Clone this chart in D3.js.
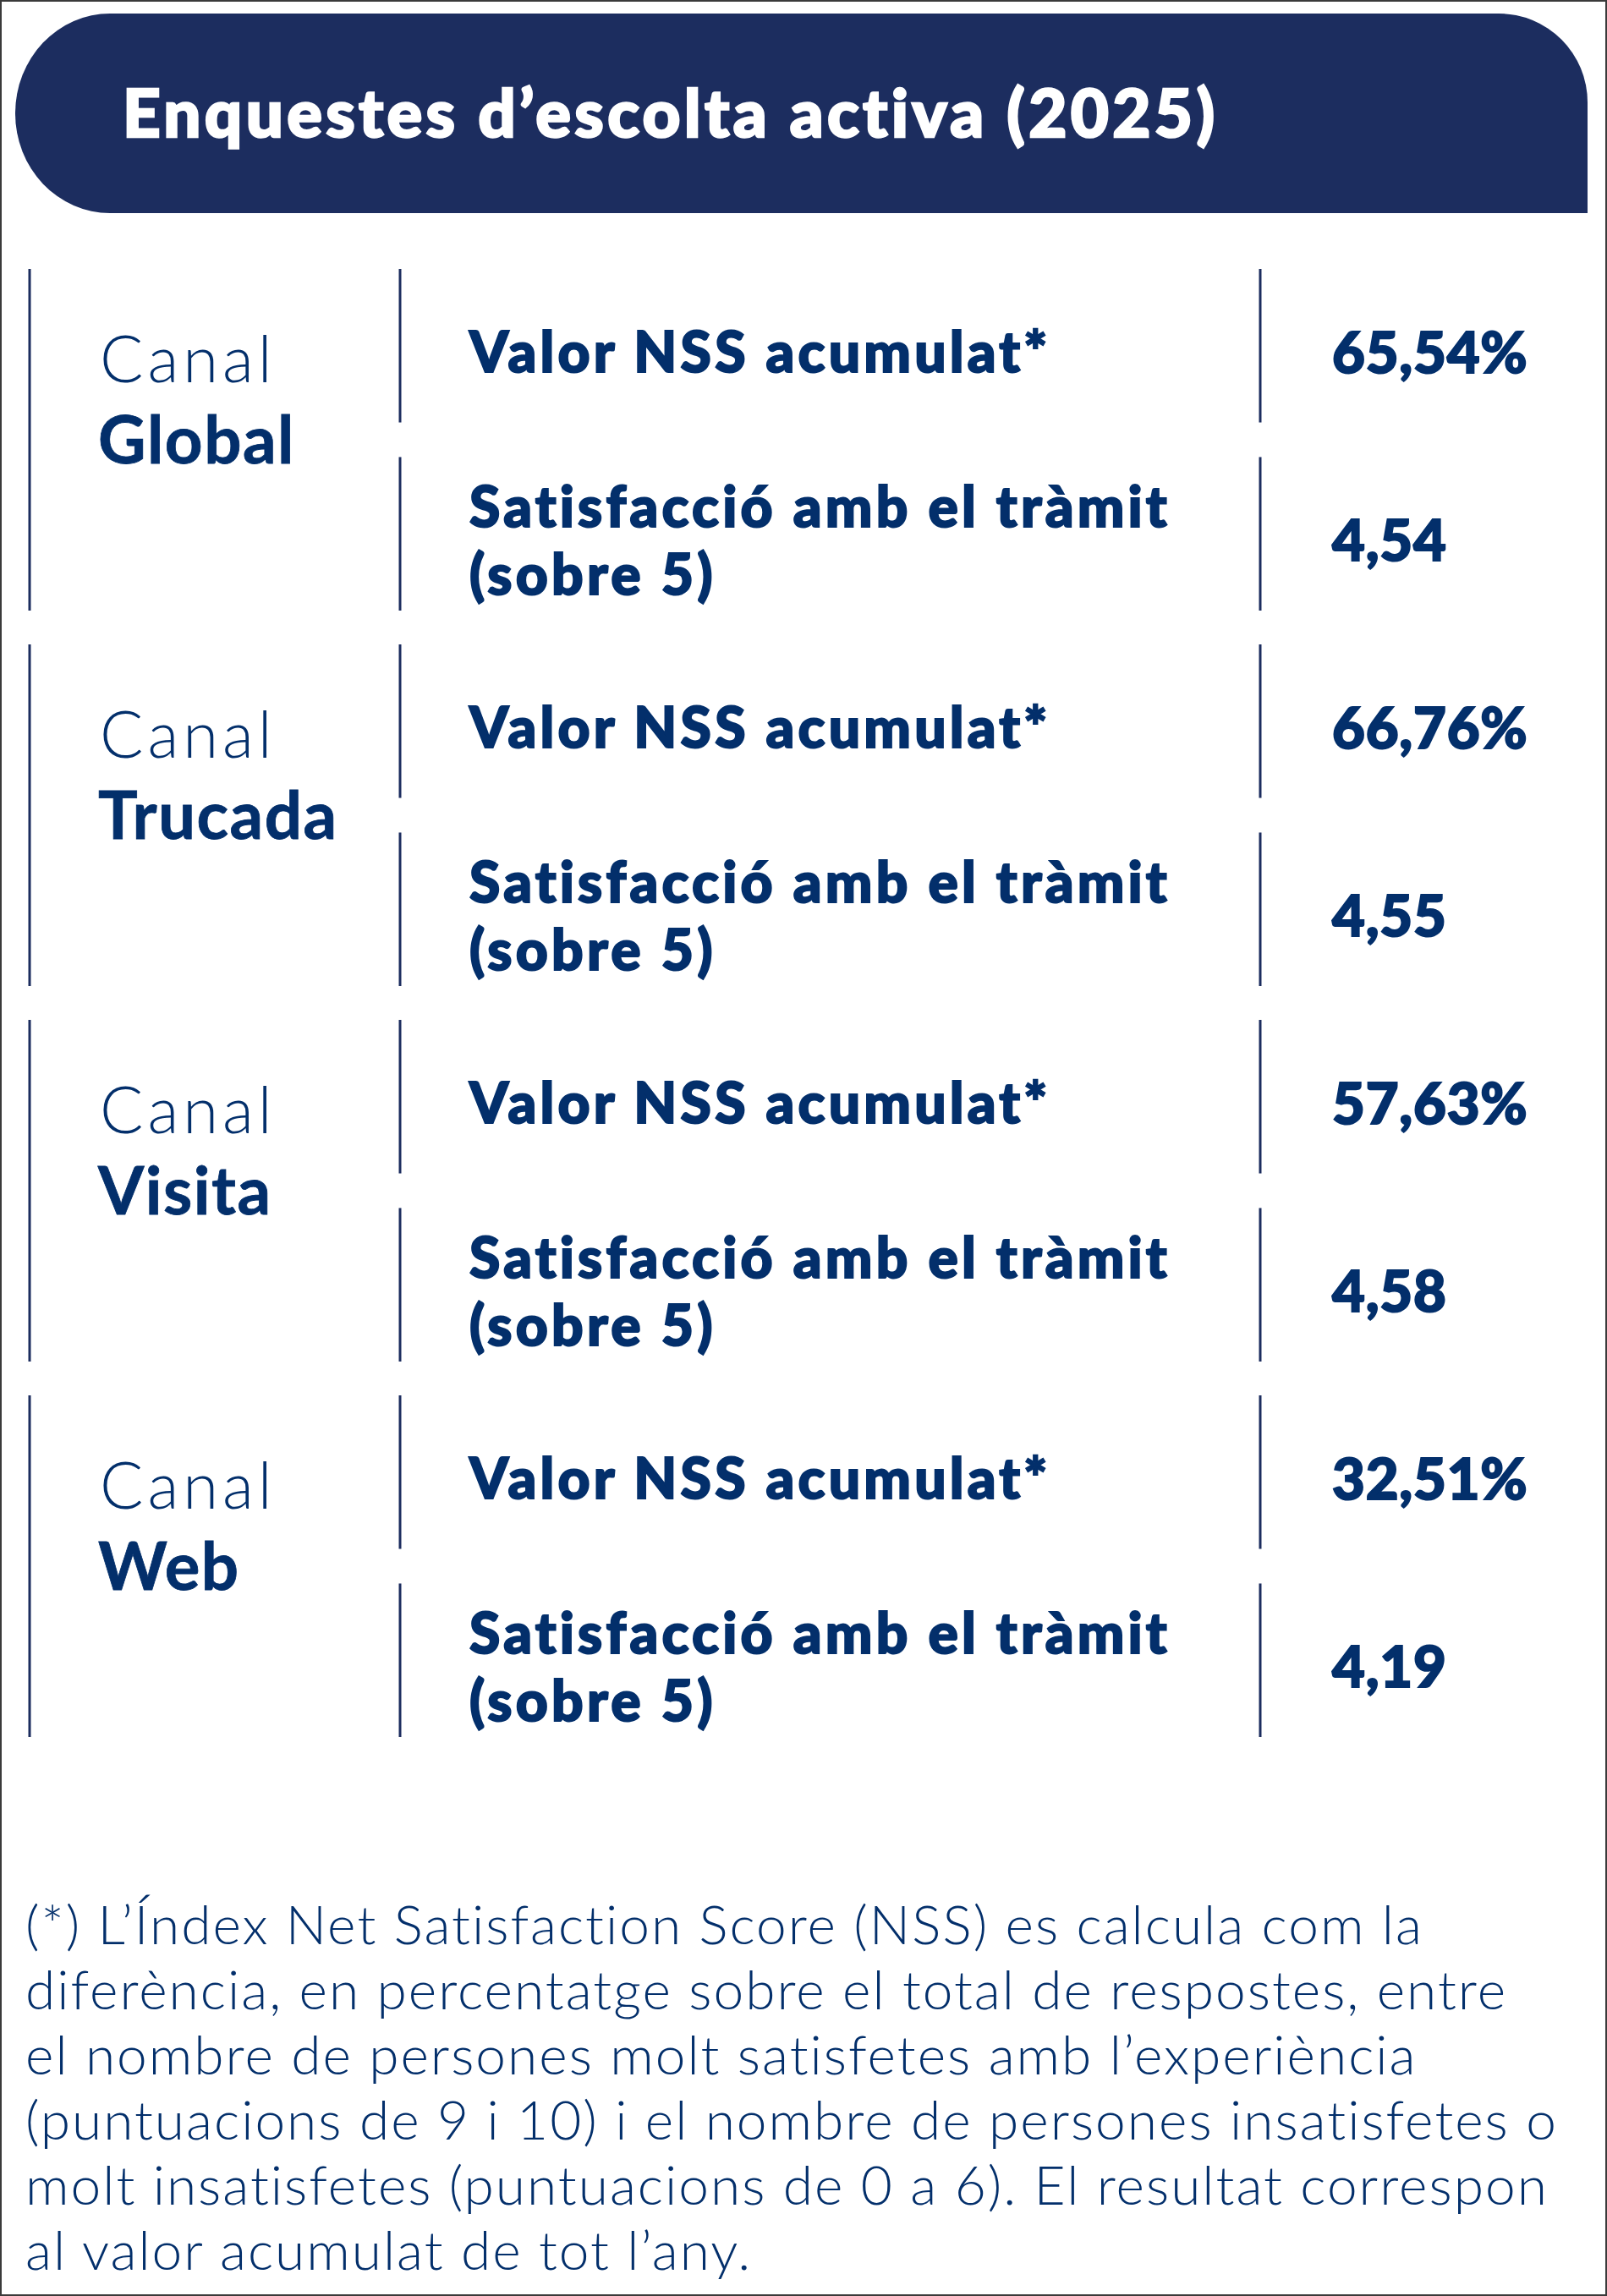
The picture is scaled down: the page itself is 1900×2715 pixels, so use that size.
<!DOCTYPE html>
<html>
<head>
<meta charset="utf-8">
<script src="https://cdn.jsdelivr.net/npm/d3@7"></script>
<style>
  body { margin: 0; background: #ffffff; }
  svg { display: block; }
</style>
</head>
<body>
<div id="chart"></div>
<script>
// Size of the page
const width = 1900;
const height = 2715;

// Data
const channels = ["Global", "Trucada", "Visita", "Web"];
const nssValues = [65.54, 66.76, 57.63, 32.51];
const satisfactionValues = [4.54, 4.55, 4.58, 4.19];
const metricLabels = [
  ["Valor NSS acumulat*"],
  ["Satisfacció amb el tràmit", "(sobre 5)"]
];
const titleText = "Enquestes d\u2019escolta activa (2025)";
const channelPrefix = "Canal";
const footnoteLines = [
  "(*) L\u2019Índex Net Satisfaction Score (NSS) es calcula com la",
  "diferència, en percentatge sobre el total de respostes, entre",
  "el nombre de persones molt satisfetes amb l\u2019experiència",
  "(puntuacions de 9 i 10) i el nombre de persones insatisfetes o",
  "molt insatisfetes (puntuacions de 0 a 6). El resultat correspon",
  "al valor acumulat de tot l\u2019any."
];

const navy = "#1c2d5f";
const textNavy = "#032f6b";
const fontFamily = "Lato, 'Noto Sans', sans-serif";

// Catalan number format (comma as decimal separator)
const ca = d3.formatLocale({ decimal: ",", thousands: ".", grouping: [3], currency: ["", " €"] });
const fmtPct = v => ca.format(".2f")(v) + "%";
const fmtNum = ca.format(".2f");

const svg = d3.select("#chart")
  .append("svg")
  .attr("width", width)
  .attr("height", height);

svg.append("rect")
  .attr("width", width)
  .attr("height", height)
  .attr("fill", "#ffffff");

// Header band: rounded left side, rounded top-right, square bottom-right
const hx0 = 18, hx1 = 1877, hy0 = 16, hy1 = 252;
const rl = 112, rt = 105;
const hr = (hy1 - hy0) / 2;
svg.append("path")
  .attr("d", `M${hx0 + rl},${hy0} H${hx1 - rt} A${rt},${rt} 0 0 1 ${hx1},${hy0 + rt} V${hy1} H${hx0 + rl} A${rl},${hr} 0 0 1 ${hx0 + rl},${hy0} Z`)
  .attr("fill", navy);

svg.append("text")
  .attr("x", 145)
  .attr("y", 162)
  .attr("fill", "#ffffff")
  .attr("stroke", "#ffffff")
  .attr("stroke-width", 2.5)
  .style("font-family", fontFamily)
  .style("font-weight", 900)
  .style("font-size", "78px")
  .style("letter-spacing", "4.3px")
  .text(titleText);

// Block layout
const y = d3.scaleBand()
  .domain(channels)
  .range([318, 2054])
  .paddingInner(40 / 444);

const rowY = d3.scaleBand()
  .domain([0, 1])
  .range([0, y.bandwidth()])
  .paddingInner(0.184);

const colX = { left: 35, mid: 473, right: 1490 };

const blocks = svg.selectAll("g.block")
  .data(channels.map((c, i) => ({ name: c, nss: nssValues[i], sat: satisfactionValues[i] })))
  .enter()
  .append("g")
  .attr("class", "block")
  .attr("transform", d => `translate(0,${y(d.name)})`);

// left divider spans the whole block
blocks.append("line")
  .attr("x1", colX.left).attr("x2", colX.left)
  .attr("y1", 0).attr("y2", y.bandwidth())
  .attr("stroke", navy).attr("stroke-width", 3);

// middle and right dividers per row
[0, 1].forEach(r => {
  [colX.mid, colX.right].forEach(x => {
    blocks.append("line")
      .attr("x1", x).attr("x2", x)
      .attr("y1", rowY(r)).attr("y2", rowY(r) + rowY.bandwidth())
      .attr("stroke", navy).attr("stroke-width", 3);
  });
});

// channel name
blocks.append("text")
  .attr("x", 118).attr("y", 134)
  .attr("fill", textNavy)
  .style("font-family", fontFamily)
  .style("font-weight", 300)
  .style("font-size", "76px")
  .style("letter-spacing", "5px")
  .text(channelPrefix);

blocks.append("text")
  .attr("x", 116).attr("y", 230)
  .attr("fill", textNavy)
  .attr("stroke", textNavy)
  .attr("stroke-width", 0.8)
  .style("font-family", fontFamily)
  .style("font-weight", 700)
  .style("font-size", "78px")
  .style("letter-spacing", "1.5px")
  .text(d => d.name);

// metric labels
const labelBase = [[122], [305, 385]];
metricLabels.forEach((lines, r) => {
  lines.forEach((line, k) => {
    blocks.append("text")
      .attr("x", 555).attr("y", labelBase[r][k])
      .attr("fill", textNavy)
      .attr("stroke", textNavy)
      .attr("stroke-width", 2)
      .style("font-family", fontFamily)
      .style("font-weight", 900)
      .style("font-size", "66px")
      .style("letter-spacing", "4.2px")
      .text(line);
  });
});

// values
blocks.append("text")
  .attr("x", 1575).attr("y", 123)
  .attr("fill", textNavy)
  .attr("stroke", textNavy)
  .attr("stroke-width", 2)
  .style("font-family", fontFamily)
  .style("font-weight", 900)
  .style("font-size", "67px")
  .style("letter-spacing", "0.8px")
  .text(d => fmtPct(d.nss));

blocks.append("text")
  .attr("x", 1575).attr("y", 345)
  .attr("fill", textNavy)
  .attr("stroke", textNavy)
  .attr("stroke-width", 2)
  .style("font-family", fontFamily)
  .style("font-weight", 900)
  .style("font-size", "67px")
  .style("letter-spacing", "0.8px")
  .text(d => fmtNum(d.sat));

// footnote
const foot = svg.append("text")
  .attr("x", 30)
  .attr("y", 2299)
  .attr("fill", textNavy)
  .style("font-family", fontFamily)
  .style("font-weight", 300)
  .style("font-size", "64px")
  .style("letter-spacing", "2px");

foot.selectAll("tspan")
  .data(footnoteLines)
  .enter()
  .append("tspan")
  .attr("x", 30)
  .attr("dy", (d, i) => i === 0 ? 0 : 77)
  .text(d => d);

// outer frame
svg.append("rect")
  .attr("x", 1).attr("y", 1)
  .attr("width", width - 2).attr("height", height - 2)
  .attr("fill", "none")
  .attr("stroke", "#3a3a3a")
  .attr("stroke-width", 2);
</script>
</body>
</html>
